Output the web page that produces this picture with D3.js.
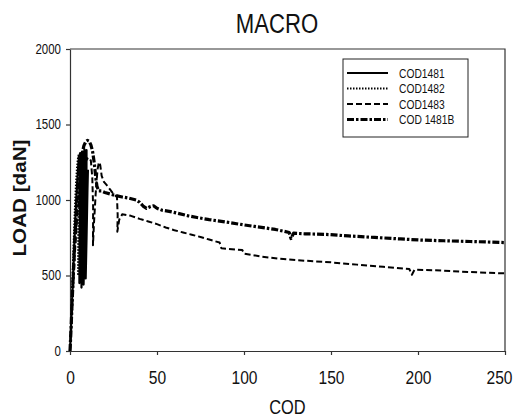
<!DOCTYPE html>
<html>
<head>
<meta charset="utf-8">
<script src="https://cdn.jsdelivr.net/npm/d3@7"></script>
<style>
  body { margin: 0; background: #fff; }
  text { font-family: "Liberation Sans", Arial, sans-serif; fill: #111; }
  .axis path, .axis line { stroke: #333; }
</style>
</head>
<body>
<svg id="chart"></svg>
<script>
// series: [COD, LOAD]
const cod1481 = [[0,0],[0.6,150],[1.2,330],[1.8,500],[2.4,680],[3,850],[3.6,1000],[4.2,1130],[4.8,1230],[5.4,1290],[5.8,1310],
  [5.7,1000],[5.5,700],[5.4,450],[5.9,700],[6.4,1000],[6.8,1250],[7.1,1320],
  [7,1000],[6.8,700],[6.6,420],[7.1,700],[7.6,1000],[8,1250],[8.3,1335],
  [8.2,1000],[8,700],[7.8,440],[8.3,700],[8.8,1000],[9.2,1250],[9.5,1330],
  [9.4,1000],[9.2,700],[9,480],[9.5,750],[10,1050],[10.3,1200]];

const cod1482 = [[0,0],[0.5,150],[1,320],[1.5,500],[2,680],[2.5,850],[3,1000],[3.5,1120],[4,1210],[4.5,1270],[5,1300],
  [4.9,1000],[4.7,700],[4.6,500],[5.1,750],[5.6,1050],[6,1270],[6.3,1310],
  [6.2,1000],[6,700],[5.9,520],[6.4,800],[6.9,1100],[7.3,1290],[7.6,1320],
  [7.5,1000],[7.3,750],[7.2,560],[7.7,850],[8.2,1150],[8.6,1300]];

const cod1483 = [[0,0],[1,220],[2,460],[3,680],[4,860],[5,1000],[6,1100],[7,1170],[8,1220],[9,1255],[10,1275],[11,1280],
  [12,1260],[12.8,1150],[13.3,950],[13.2,700],[13.8,850],[14.8,1050],[15.8,1200],[16.6,1250],[17.4,1230],[18.2,1160],
  [19.5,1120],[21,1100],[23,1070],[25,1040],[27,1020],[27.4,900],[27.2,790],[28.3,870],[30,905],[35,895],[40,875],
  [45,858],[50,840],[55,818],[60,800],[65,785],[70,770],[75,755],[80,738],[86,718],[87,680],[95,672],[99,669],
  [100,645],[110,625],[120,611],[135,598],[150,587],[165,572],[180,558],[195,543],[196.5,505],[198,538],[210,535],
  [225,525],[240,518],[250,514]];

const cod1481b = [[0,0],[0.5,120],[1,260],[1.5,400],[2,540],[2.5,680],[3,800],[4,980],[5,1120],[6,1230],[7,1310],[8,1360],
  [9,1385],[10,1395],[11,1390],[12,1365],[13,1320],[14,1240],[14.8,1150],[15.5,1090],[16.5,1060],[18,1060],[20,1050],
  [23,1040],[26,1030],[30,1020],[34,1012],[38,1000],[40,985],[42,960],[44,945],[46,955],[48,962],[50,945],[53,932],
  [57,925],[62,912],[68,895],[73,884],[80,870],[86,860],[92,850],[100,835],[106,825],[111,817],[118,805],[126,785],
  [127,745],[128.5,780],[135,776],[142,774],[149,771],[160,762],[175,752],[190,742],[201,735],[215,730],[230,725],
  [240,722],[250,718]];

const seriesNames = ['COD1481', 'COD1482', 'COD1483', 'COD 1481B'];
const xTicks = [0, 50, 100, 150, 200, 250];
const yTicks = [0, 500, 1000, 1500, 2000];

const width = 519, height = 418;
const margin = {top: 49, right: 14, bottom: 67, left: 70};
const innerW = width - margin.left - margin.right;
const innerH = height - margin.top - margin.bottom;

const svg = d3.select('#chart').attr('width', width).attr('height', height);
const chart = svg.append('g').attr('transform', `translate(${margin.left},${margin.top})`);

const xScale = d3.scaleLinear().domain([0, 250]).range([0, innerW]);
const yScale = d3.scaleLinear().domain([0, 2000]).range([innerH, 0]);

// frame (top + right)
chart.append('path')
    .attr('d', `M0,0H${innerW}V${innerH}`)
    .attr('fill', 'none')
    .attr('stroke', '#333')
    .attr('stroke-width', 1.2);

const xAxisG = chart.append('g')
    .attr('class', 'axis')
    .attr('transform', `translate(0,${innerH})`)
    .call(d3.axisBottom(xScale).tickValues(xTicks).tickFormat(d3.format('d'))
      .tickSize(4).tickSizeOuter(0).tickPadding(16));
xAxisG.selectAll('text').attr('font-size', 19).attr('fill', '#111');
// last label sits right at the page edge; nudge it inside
xAxisG.selectAll('text').filter(d => d === 250).attr('dx', -6);

const yAxisG = chart.append('g')
    .attr('class', 'axis')
    .call(d3.axisLeft(yScale).tickValues(yTicks).tickFormat(d3.format('d'))
      .tickSize(4).tickSizeOuter(0).tickPadding(5));
yAxisG.selectAll('text').attr('font-size', 14).attr('fill', '#111');
svg.selectAll('.axis path, .axis line').attr('stroke-width', 1.2);

// curves
const styles = [
  {data: cod1481, dash: null, w: 2.2},
  {data: cod1482, dash: '1.5,1.5', w: 2},
  {data: cod1483, dash: '6,3', w: 2},
  {data: cod1481b, dash: '7,2,2.5,2', w: 3.2}
];

const line = d3.line()
    .x(d => xScale(d[0]))
    .y(d => yScale(d[1]));

chart.selectAll('.curve')
    .data(styles)
  .join('path')
    .attr('class', 'curve')
    .attr('d', d => line(d.data))
    .attr('fill', 'none')
    .attr('stroke', '#000')
    .attr('stroke-width', d => d.w)
    .attr('stroke-dasharray', d => d.dash)
    .attr('stroke-linejoin', 'round');

// legend
const legend = svg.append('g').attr('transform', 'translate(343,59)');
legend.append('rect')
    .attr('width', 125).attr('height', 78)
    .attr('fill', '#fff').attr('stroke', '#222').attr('stroke-width', 1);
const rows = legend.selectAll('.row')
    .data(styles)
  .join('g')
    .attr('transform', (d, i) => `translate(0,${14 + i * 15.5})`);
rows.append('line')
    .attr('x1', 4).attr('x2', 45)
    .attr('stroke', '#000')
    .attr('stroke-width', d => d.w)
    .attr('stroke-dasharray', d => d.dash);
rows.append('text')
    .attr('x', 56).attr('y', 4.5)
    .attr('font-size', 12.5)
    .text((d, i) => seriesNames[i]);

// titles
svg.append('text')
    .attr('x', 277).attr('y', 33)
    .attr('text-anchor', 'middle')
    .attr('font-size', 27)
    .text('MACRO');

svg.append('text')
    .attr('x', margin.left + innerW / 2).attr('y', 414)
    .attr('text-anchor', 'middle')
    .attr('font-size', 20)
    .text('COD');

// the original uses a condensed face: squeeze every plain label horizontally
svg.selectAll('text').each(function() {
  const w = this.getComputedTextLength();
  d3.select(this)
      .attr('textLength', w * 0.82)
      .attr('lengthAdjust', 'spacingAndGlyphs');
});

svg.append('text')
    .attr('transform', 'translate(26,198) rotate(-90)')
    .attr('text-anchor', 'middle')
    .attr('font-size', 18)
    .attr('font-weight', 'bold')
    .attr('textLength', 117)
    .attr('lengthAdjust', 'spacingAndGlyphs')
    .text('LOAD [daN]');
</script>
</body>
</html>
